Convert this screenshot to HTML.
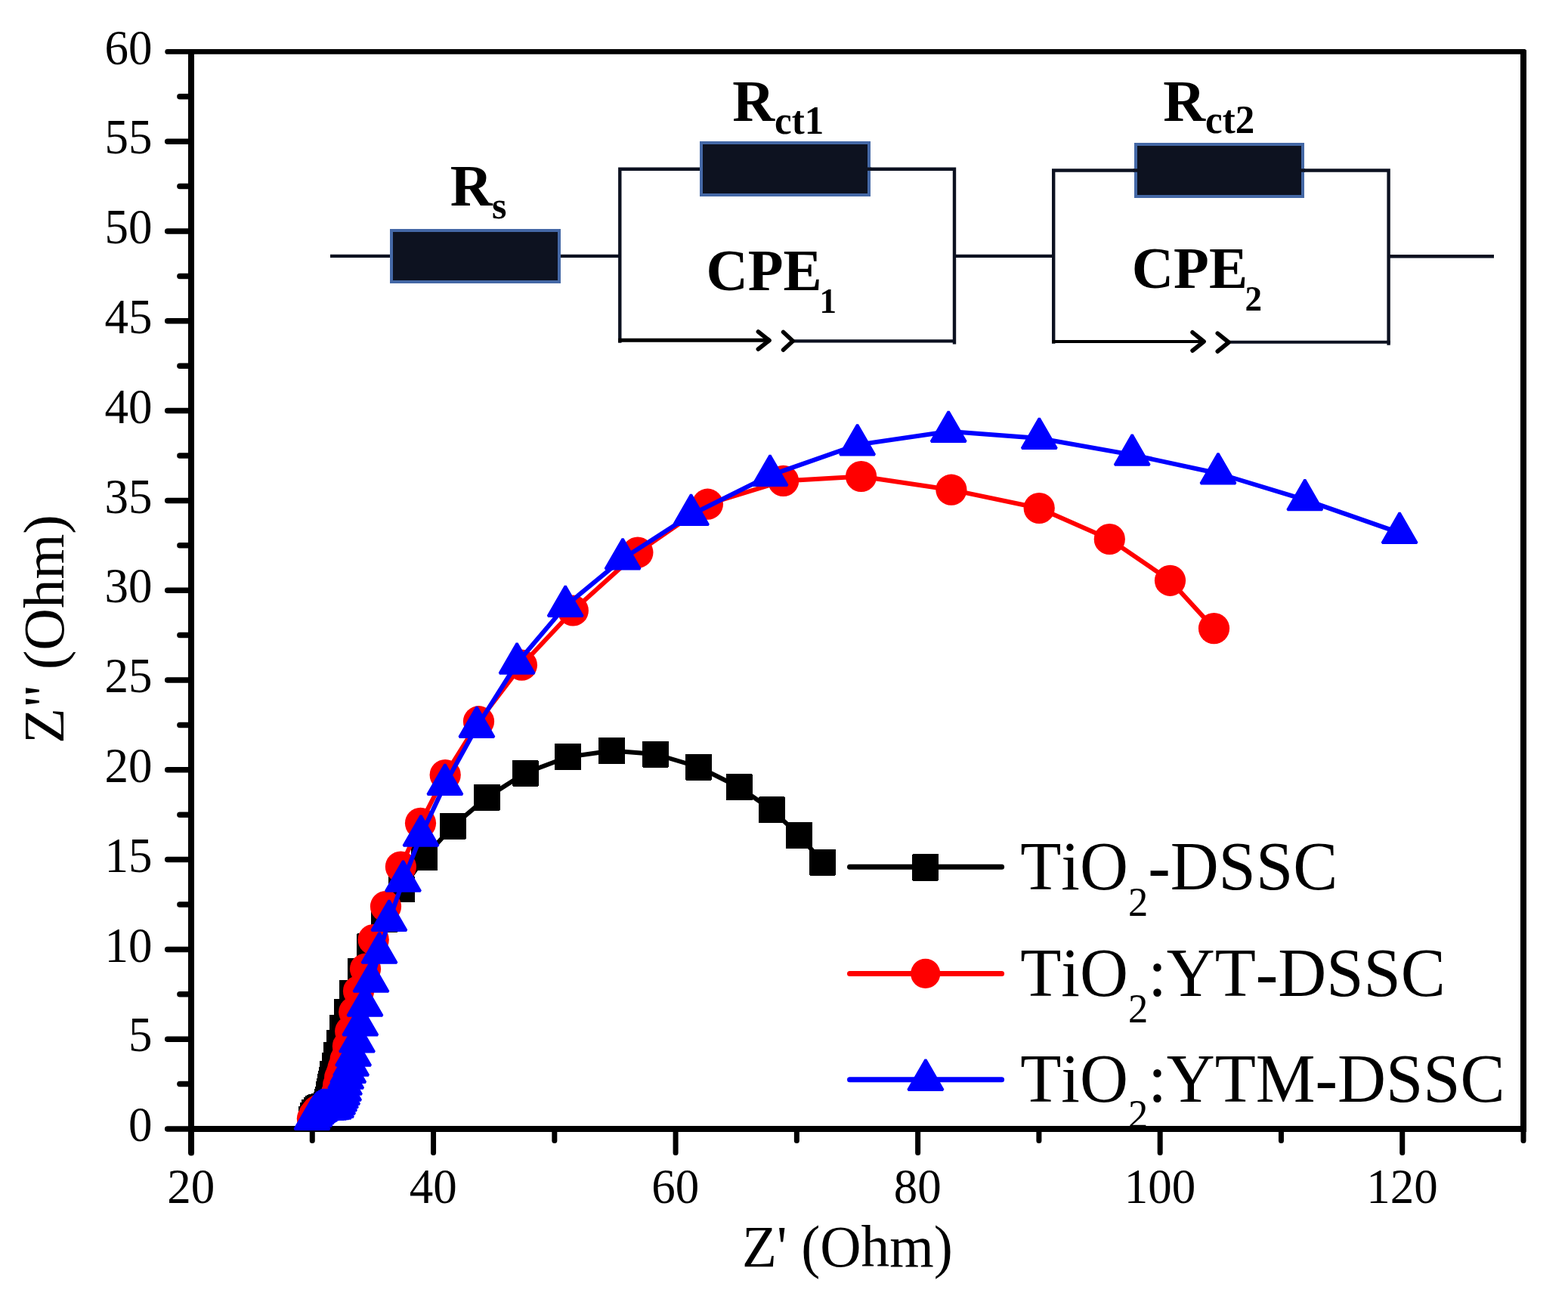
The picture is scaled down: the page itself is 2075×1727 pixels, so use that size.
<!DOCTYPE html>
<html lang="en"><head><meta charset="utf-8"><title>Nyquist plot - DSSC impedance</title>
<style>html,body{margin:0;padding:0;background:#fff;}body{width:2075px;height:1727px;overflow:hidden;}svg{display:block;}text{font-family:'Liberation Serif', 'DejaVu Serif', serif;fill:#000;font-kerning:none;font-variant-ligatures:none;}</style>
</head><body>
<svg width="2075" height="1727" viewBox="0 0 2075 1727" shape-rendering="crispEdges">
<rect x="0" y="0" width="2075" height="1727" fill="#fff"/>
<g id="circuit" fill="none" stroke="#0c1120" stroke-width="4.4" shape-rendering="geometricPrecision">
<line x1="437" y1="338.9" x2="518" y2="338.9"/>
<line x1="740" y1="338.9" x2="820.3" y2="338.9"/>
<line x1="1263" y1="338.9" x2="1394.2" y2="338.9"/>
<line x1="1837.6" y1="339.2" x2="1977" y2="339.2"/>
<polyline points="820.3,453.7 820.3,223.7 1263,223.7 1263,455.4"/>
<line x1="1050" y1="451.4" x2="1265" y2="451.4"/>
<polyline points="1394.2,454.7 1394.2,225.5 1837.6,225.5 1837.6,456.7"/>
<line x1="1627" y1="452.7" x2="1839.7" y2="452.7" stroke-width="4"/>
</g>
<g id="arrows" fill="none" stroke="#000" stroke-width="5.6" stroke-linecap="round" stroke-linejoin="round" shape-rendering="geometricPrecision">
<line x1="818.2" y1="450.3" x2="1017" y2="450.3" stroke-linecap="butt" stroke-width="5"/>
<polyline points="1003.4,439 1018,450.5 1003.4,462"/>
<polyline points="1036.6,439.5 1049.2,451.2 1036.6,463"/>
<line x1="1392.1" y1="452" x2="1592" y2="452" stroke-linecap="butt" stroke-width="4.2"/>
<polyline points="1578.1,439.8 1593.1,452 1578.1,464"/>
<polyline points="1611.3,441.1 1626,453 1611.3,465"/>
</g>
<g id="resistors" fill="#0d1220" stroke="#4468a6" stroke-width="3.6">
<rect x="517.7" y="304.9" width="222.4" height="68"/>
<rect x="927.8" y="189" width="222.2" height="69"/>
<rect x="1502.9" y="191" width="221.2" height="69"/>
</g>
<g id="wire-stubs" fill="none" stroke="#0c1120" stroke-width="4.4" shape-rendering="geometricPrecision">
<line x1="1148" y1="223.7" x2="1153" y2="223.7"/>
<line x1="1500" y1="225.5" x2="1505" y2="225.5"/>
<line x1="1722" y1="225.5" x2="1727" y2="225.5"/>
</g>
<g id="circuit-labels" font-weight="bold" font-size="77.3">
<text transform="translate(595.8,272.2) scale(1,1.02)">R<tspan font-size="50" dy="16.3" dx="-0.6">s</tspan></text>
<text transform="translate(969.3,160.2) scale(1,1.02)">R<tspan font-size="51" dy="16">ct1</tspan></text>
<text transform="translate(1539.3,159.8) scale(1,1.02)">R<tspan font-size="51" dy="15.7">ct2</tspan></text>
<text transform="translate(934.5,384.3) scale(1,1.02)" font-size="76.6">CPE<tspan font-size="45" dy="28.8" dx="-3.2">1</tspan></text>
<text transform="translate(1497.8,381.4) scale(1,1.02)" font-size="76.6">CPE<tspan font-size="45" dy="29.3" dx="-3.6">2</tspan></text>
</g>
<g id="axes" fill="none" stroke="#000" stroke-linecap="round" shape-rendering="geometricPrecision">
<line x1="253" y1="65" x2="253" y2="1498" stroke-width="8" stroke-linecap="butt"/>
<line x1="2016" y1="66.4" x2="2016" y2="1498" stroke-width="8" stroke-linecap="butt"/>
<line x1="249" y1="1494" x2="2020" y2="1494" stroke-width="8" stroke-linecap="butt"/>
<polygon points="249,65 2018.2,65 2020,66.8 2020,71.8 249,71.8" fill="#000" stroke="none"/>
<line x1="221.7" y1="1494" x2="253" y2="1494" stroke-width="7.5"/>
<line x1="237.9" y1="1434.6" x2="253" y2="1434.6" stroke-width="7.5"/>
<line x1="221.7" y1="1375.2" x2="253" y2="1375.2" stroke-width="7.5"/>
<line x1="237.9" y1="1315.8" x2="253" y2="1315.8" stroke-width="7.5"/>
<line x1="221.7" y1="1256.4" x2="253" y2="1256.4" stroke-width="7.5"/>
<line x1="237.9" y1="1197" x2="253" y2="1197" stroke-width="7.5"/>
<line x1="221.7" y1="1137.6" x2="253" y2="1137.6" stroke-width="7.5"/>
<line x1="237.9" y1="1078.2" x2="253" y2="1078.2" stroke-width="7.5"/>
<line x1="221.7" y1="1018.8" x2="253" y2="1018.8" stroke-width="7.5"/>
<line x1="237.9" y1="959.4" x2="253" y2="959.4" stroke-width="7.5"/>
<line x1="221.7" y1="900" x2="253" y2="900" stroke-width="7.5"/>
<line x1="237.9" y1="840.6" x2="253" y2="840.6" stroke-width="7.5"/>
<line x1="221.7" y1="781.2" x2="253" y2="781.2" stroke-width="7.5"/>
<line x1="237.9" y1="721.8" x2="253" y2="721.8" stroke-width="7.5"/>
<line x1="221.7" y1="662.4" x2="253" y2="662.4" stroke-width="7.5"/>
<line x1="237.9" y1="603" x2="253" y2="603" stroke-width="7.5"/>
<line x1="221.7" y1="543.6" x2="253" y2="543.6" stroke-width="7.5"/>
<line x1="237.9" y1="484.2" x2="253" y2="484.2" stroke-width="7.5"/>
<line x1="221.7" y1="424.8" x2="253" y2="424.8" stroke-width="7.5"/>
<line x1="237.9" y1="365.4" x2="253" y2="365.4" stroke-width="7.5"/>
<line x1="221.7" y1="306" x2="253" y2="306" stroke-width="7.5"/>
<line x1="237.9" y1="246.6" x2="253" y2="246.6" stroke-width="7.5"/>
<line x1="221.7" y1="187.2" x2="253" y2="187.2" stroke-width="7.5"/>
<line x1="237.9" y1="127.8" x2="253" y2="127.8" stroke-width="7.5"/>
<line x1="221.7" y1="68.4" x2="253" y2="68.4" stroke-width="6.8"/>
<line x1="253" y1="1494" x2="253" y2="1525.4" stroke-width="8"/>
<line x1="413.27" y1="1494" x2="413.27" y2="1509.6" stroke-width="7"/>
<line x1="573.55" y1="1494" x2="573.55" y2="1525.4" stroke-width="7"/>
<line x1="733.82" y1="1494" x2="733.82" y2="1509.6" stroke-width="7"/>
<line x1="894.09" y1="1494" x2="894.09" y2="1525.4" stroke-width="7"/>
<line x1="1054.36" y1="1494" x2="1054.36" y2="1509.6" stroke-width="7"/>
<line x1="1214.64" y1="1494" x2="1214.64" y2="1525.4" stroke-width="7"/>
<line x1="1374.91" y1="1494" x2="1374.91" y2="1509.6" stroke-width="7"/>
<line x1="1535.18" y1="1494" x2="1535.18" y2="1525.4" stroke-width="7"/>
<line x1="1695.45" y1="1494" x2="1695.45" y2="1509.6" stroke-width="7"/>
<line x1="1855.73" y1="1494" x2="1855.73" y2="1525.4" stroke-width="7"/>
<line x1="2016" y1="1494" x2="2016" y2="1509.6" stroke-width="7"/>
</g>
<defs><clipPath id="plotclip"><rect x="253" y="66.4" width="1763" height="1429.6"/></clipPath></defs>
<g id="data" clip-path="url(#plotclip)">
<g id="series-black" fill="#000" stroke="none">
<polyline points="412.4,1481.7 414.6,1476.7 416.5,1472.6 419.7,1469.7 421.6,1467.5 423.5,1466.5 425.7,1465.6 429,1464.2 432.4,1462.4 433.5,1458.6 434.6,1455.5 435.6,1448.7 436.6,1444.4 437.6,1438.8 438.6,1434.4 439.6,1429.6 440.7,1421.5 443.6,1410.6 445.6,1396.5 449.7,1380.6 453.6,1360.6 459.5,1339.7 466.7,1314.5 477.6,1285.6 489.9,1252.8 508.7,1216.8 531.4,1176.9 561.4,1134.9 599.4,1093.2 644.5,1055.1 695,1023 751.5,1001.7 809.7,993.5 867.4,998 924.4,1015 978.1,1041.8 1021.5,1071.9 1057.6,1105.4 1088.6,1141" fill="none" stroke="#000" stroke-width="6" stroke-linejoin="round" shape-rendering="geometricPrecision"/>
<rect x="394.9" y="1464.2" width="35" height="35" rx="1" ry="1"/>
<rect x="397.1" y="1459.2" width="35" height="35" rx="1" ry="1"/>
<rect x="399" y="1455.1" width="35" height="35" rx="1" ry="1"/>
<rect x="402.2" y="1452.2" width="35" height="35" rx="1" ry="1"/>
<rect x="404.1" y="1450" width="35" height="35" rx="1" ry="1"/>
<rect x="406" y="1449" width="35" height="35" rx="1" ry="1"/>
<rect x="408.2" y="1448.1" width="35" height="35" rx="1" ry="1"/>
<rect x="411.5" y="1446.7" width="35" height="35" rx="1" ry="1"/>
<rect x="414.9" y="1444.9" width="35" height="35" rx="1" ry="1"/>
<rect x="416" y="1441.1" width="35" height="35" rx="1" ry="1"/>
<rect x="417.1" y="1438" width="35" height="35" rx="1" ry="1"/>
<rect x="418.1" y="1431.2" width="35" height="35" rx="1" ry="1"/>
<rect x="419.1" y="1426.9" width="35" height="35" rx="1" ry="1"/>
<rect x="420.1" y="1421.3" width="35" height="35" rx="1" ry="1"/>
<rect x="421.1" y="1416.9" width="35" height="35" rx="1" ry="1"/>
<rect x="422.1" y="1412.1" width="35" height="35" rx="1" ry="1"/>
<rect x="423.2" y="1404" width="35" height="35" rx="1" ry="1"/>
<rect x="426.1" y="1393.1" width="35" height="35" rx="1" ry="1"/>
<rect x="428.1" y="1379" width="35" height="35" rx="1" ry="1"/>
<rect x="432.2" y="1363.1" width="35" height="35" rx="1" ry="1"/>
<rect x="436.1" y="1343.1" width="35" height="35" rx="1" ry="1"/>
<rect x="442" y="1322.2" width="35" height="35" rx="1" ry="1"/>
<rect x="449.2" y="1297" width="35" height="35" rx="1" ry="1"/>
<rect x="460.1" y="1268.1" width="35" height="35" rx="1" ry="1"/>
<rect x="472.4" y="1235.3" width="35" height="35" rx="1" ry="1"/>
<rect x="491.2" y="1199.3" width="35" height="35" rx="1" ry="1"/>
<rect x="513.9" y="1159.4" width="35" height="35" rx="1" ry="1"/>
<rect x="543.9" y="1117.4" width="35" height="35" rx="1" ry="1"/>
<rect x="581.9" y="1075.7" width="35" height="35" rx="1" ry="1"/>
<rect x="627" y="1037.6" width="35" height="35" rx="1" ry="1"/>
<rect x="677.5" y="1005.5" width="35" height="35" rx="1" ry="1"/>
<rect x="734" y="984.2" width="35" height="35" rx="1" ry="1"/>
<rect x="792.2" y="976" width="35" height="35" rx="1" ry="1"/>
<rect x="849.9" y="980.5" width="35" height="35" rx="1" ry="1"/>
<rect x="906.9" y="997.5" width="35" height="35" rx="1" ry="1"/>
<rect x="960.6" y="1024.3" width="35" height="35" rx="1" ry="1"/>
<rect x="1004" y="1054.4" width="35" height="35" rx="1" ry="1"/>
<rect x="1040.1" y="1087.9" width="35" height="35" rx="1" ry="1"/>
<rect x="1071.1" y="1123.5" width="35" height="35" rx="1" ry="1"/>
</g>
<g id="series-red" fill="#f00" stroke="none" shape-rendering="geometricPrecision">
<polyline points="413.4,1480.5 416,1475 420,1470 424,1467.8 429,1466.5 434,1465.5 438.5,1462 441.5,1456 443.8,1450.5 445.8,1445.6 447.6,1436 449.7,1425.6 451.9,1420.4 454.1,1412.6 457.1,1401.9 460.4,1384.5 463.7,1364.8 468.7,1339.3 474.5,1311.5 483.5,1282.2 494.2,1243.5 510.5,1199.6 530.4,1147.1 556.5,1089.3 589.2,1025.5 633.5,954.7 690.4,880.2 758.3,808 843.9,731.1 936.4,667.2 1036.6,636.4 1139.6,630.5 1258.9,648.2 1375.2,672.5 1468.3,713.5 1548.5,768.3 1606.5,831.6" fill="none" stroke="#f00" stroke-width="6" stroke-linejoin="round"/>
<circle cx="413.4" cy="1480.5" r="20.6"/>
<circle cx="416" cy="1475" r="20.6"/>
<circle cx="420" cy="1470" r="20.6"/>
<circle cx="424" cy="1467.8" r="20.6"/>
<circle cx="429" cy="1466.5" r="20.6"/>
<circle cx="434" cy="1465.5" r="20.6"/>
<circle cx="438.5" cy="1462" r="20.6"/>
<circle cx="441.5" cy="1456" r="20.6"/>
<circle cx="443.8" cy="1450.5" r="20.6"/>
<circle cx="445.8" cy="1445.6" r="20.6"/>
<circle cx="447.6" cy="1436" r="20.6"/>
<circle cx="449.7" cy="1425.6" r="20.6"/>
<circle cx="451.9" cy="1420.4" r="20.6"/>
<circle cx="454.1" cy="1412.6" r="20.6"/>
<circle cx="457.1" cy="1401.9" r="20.6"/>
<circle cx="460.4" cy="1384.5" r="20.6"/>
<circle cx="463.7" cy="1364.8" r="20.6"/>
<circle cx="468.7" cy="1339.3" r="20.6"/>
<circle cx="474.5" cy="1311.5" r="20.6"/>
<circle cx="483.5" cy="1282.2" r="20.6"/>
<circle cx="494.2" cy="1243.5" r="20.6"/>
<circle cx="510.5" cy="1199.6" r="20.6"/>
<circle cx="530.4" cy="1147.1" r="20.6"/>
<circle cx="556.5" cy="1089.3" r="20.6"/>
<circle cx="589.2" cy="1025.5" r="20.6"/>
<circle cx="633.5" cy="954.7" r="20.6"/>
<circle cx="690.4" cy="880.2" r="20.6"/>
<circle cx="758.3" cy="808" r="20.6"/>
<circle cx="843.9" cy="731.1" r="20.6"/>
<circle cx="936.4" cy="667.2" r="20.6"/>
<circle cx="1036.6" cy="636.4" r="20.6"/>
<circle cx="1139.6" cy="630.5" r="20.6"/>
<circle cx="1258.9" cy="648.2" r="20.6"/>
<circle cx="1375.2" cy="672.5" r="20.6"/>
<circle cx="1468.3" cy="713.5" r="20.6"/>
<circle cx="1548.5" cy="768.3" r="20.6"/>
<circle cx="1606.5" cy="831.6" r="20.6"/>
</g>
<g id="series-blue" fill="#00f" stroke="#00f" stroke-width="3.2" stroke-linejoin="bevel" shape-rendering="geometricPrecision">
<polyline points="413,1481.1 415.8,1476.8 418.2,1473.6 420.5,1471.4 423,1469.8 425.8,1468.4 428.6,1468 431.8,1468 435.1,1467.9 438.3,1467.4 441.4,1466.9 444.5,1465 446.6,1460.8 448.6,1456.6 450.5,1452.4 452.6,1448.1 454.6,1442.8 455.5,1434.9 457.7,1426.8 460.7,1419 464.6,1409.8 467.6,1396.8 472.5,1378.7 476.8,1356.6 483,1330.8 491,1298.9 502,1260.9 514.9,1218 533.5,1165.9 557,1105.9 588.9,1038 630.9,962.1 684.1,877.8 748.2,802.1 824.1,739.5 914.5,681.2 1019,629.1 1134.6,588.6 1255.2,571 1375.3,580 1498.2,601.9 1612,626.5 1726.8,661.4 1852.1,705.2" fill="none" stroke="#00f" stroke-width="6" stroke-linejoin="round"/>
<polygon points="413,1454.54 436,1494.38 390,1494.38"/>
<polygon points="415.8,1450.24 438.8,1490.08 392.8,1490.08"/>
<polygon points="418.2,1447.04 441.2,1486.88 395.2,1486.88"/>
<polygon points="420.5,1444.84 443.5,1484.68 397.5,1484.68"/>
<polygon points="423,1443.24 446,1483.08 400,1483.08"/>
<polygon points="425.8,1441.84 448.8,1481.68 402.8,1481.68"/>
<polygon points="428.6,1441.44 451.6,1481.28 405.6,1481.28"/>
<polygon points="431.8,1441.44 454.8,1481.28 408.8,1481.28"/>
<polygon points="435.1,1441.34 458.1,1481.18 412.1,1481.18"/>
<polygon points="438.3,1440.84 461.3,1480.68 415.3,1480.68"/>
<polygon points="441.4,1440.34 464.4,1480.18 418.4,1480.18"/>
<polygon points="444.5,1438.44 467.5,1478.28 421.5,1478.28"/>
<polygon points="446.6,1434.24 469.6,1474.08 423.6,1474.08"/>
<polygon points="448.6,1430.04 471.6,1469.88 425.6,1469.88"/>
<polygon points="450.5,1425.84 473.5,1465.68 427.5,1465.68"/>
<polygon points="452.6,1421.54 475.6,1461.38 429.6,1461.38"/>
<polygon points="454.6,1416.24 477.6,1456.08 431.6,1456.08"/>
<polygon points="455.5,1408.34 478.5,1448.18 432.5,1448.18"/>
<polygon points="457.7,1400.24 480.7,1440.08 434.7,1440.08"/>
<polygon points="460.7,1392.44 483.7,1432.28 437.7,1432.28"/>
<polygon points="464.6,1383.24 487.6,1423.08 441.6,1423.08"/>
<polygon points="467.6,1370.24 490.6,1410.08 444.6,1410.08"/>
<polygon points="472.5,1352.14 495.5,1391.98 449.5,1391.98"/>
<polygon points="476.8,1330.04 499.8,1369.88 453.8,1369.88"/>
<polygon points="483,1304.24 506,1344.08 460,1344.08"/>
<polygon points="491,1272.34 514,1312.18 468,1312.18"/>
<polygon points="502,1234.34 525,1274.18 479,1274.18"/>
<polygon points="514.9,1191.44 537.9,1231.28 491.9,1231.28"/>
<polygon points="533.5,1139.34 556.5,1179.18 510.5,1179.18"/>
<polygon points="557,1079.34 580,1119.18 534,1119.18"/>
<polygon points="588.9,1011.44 611.9,1051.28 565.9,1051.28"/>
<polygon points="630.9,935.54 653.9,975.38 607.9,975.38"/>
<polygon points="684.1,851.24 707.1,891.08 661.1,891.08"/>
<polygon points="748.2,775.54 771.2,815.38 725.2,815.38"/>
<polygon points="824.1,712.94 847.1,752.78 801.1,752.78"/>
<polygon points="914.5,654.64 937.5,694.48 891.5,694.48"/>
<polygon points="1019,602.54 1042,642.38 996,642.38"/>
<polygon points="1134.6,562.04 1157.6,601.88 1111.6,601.88"/>
<polygon points="1255.2,544.44 1278.2,584.28 1232.2,584.28"/>
<polygon points="1375.3,553.44 1398.3,593.28 1352.3,593.28"/>
<polygon points="1498.2,575.34 1521.2,615.18 1475.2,615.18"/>
<polygon points="1612,599.94 1635,639.78 1589,639.78"/>
<polygon points="1726.8,634.84 1749.8,674.68 1703.8,674.68"/>
<polygon points="1852.1,678.64 1875.1,718.48 1829.1,718.48"/>
</g>
</g>
<g id="ylabels" font-size="63" text-anchor="end">
<text transform="translate(201.5,1510.1) scale(1,1.03)">0</text>
<text transform="translate(201.5,1391.3) scale(1,1.03)">5</text>
<text transform="translate(201.5,1272.5) scale(1,1.03)">10</text>
<text transform="translate(201.5,1153.7) scale(1,1.03)">15</text>
<text transform="translate(201.5,1034.9) scale(1,1.03)">20</text>
<text transform="translate(201.5,916.1) scale(1,1.03)">25</text>
<text transform="translate(201.5,797.3) scale(1,1.03)">30</text>
<text transform="translate(201.5,678.5) scale(1,1.03)">35</text>
<text transform="translate(201.5,559.7) scale(1,1.03)">40</text>
<text transform="translate(201.5,440.9) scale(1,1.03)">45</text>
<text transform="translate(201.5,322.1) scale(1,1.03)">50</text>
<text transform="translate(201.5,203.3) scale(1,1.03)">55</text>
<text transform="translate(201.5,84.5) scale(1,1.03)">60</text>
</g>
<g id="xlabels" font-size="63" text-anchor="middle">
<text transform="translate(252.7,1592.4) scale(1,1.03)">20</text>
<text transform="translate(573.25,1592.4) scale(1,1.03)">40</text>
<text transform="translate(893.79,1592.4) scale(1,1.03)">60</text>
<text transform="translate(1214.34,1592.4) scale(1,1.03)">80</text>
<text transform="translate(1534.88,1592.4) scale(1,1.03)">100</text>
<text transform="translate(1855.43,1592.4) scale(1,1.03)">120</text>
</g>
<g id="titles">
<text transform="translate(982,1675.5) scale(1,1.03)" font-size="75.2">Z' (Ohm)</text>
<text transform="translate(84,984) rotate(-90)" font-size="77">Z" (Ohm)</text>
</g>
<g id="legend">
<line x1="1124.5" y1="1147.3" x2="1325.6" y2="1147.3" stroke="#000" stroke-width="7" stroke-linecap="round" shape-rendering="geometricPrecision"/>
<line x1="1124.5" y1="1288.4" x2="1325.6" y2="1288.4" stroke="#f00" stroke-width="7" stroke-linecap="round" shape-rendering="geometricPrecision"/>
<line x1="1124.5" y1="1428.7" x2="1325.6" y2="1428.7" stroke="#00f" stroke-width="7" stroke-linecap="round" shape-rendering="geometricPrecision"/>
<g fill="#000"><rect x="1207" y="1130.4" width="35.2" height="35.2" rx="1" ry="1"/></g>
<g fill="#f00" shape-rendering="geometricPrecision"><circle cx="1224.7" cy="1288.4" r="19.6"/></g>
<g fill="#00f" stroke="#00f" stroke-width="3.2" stroke-linejoin="bevel" shape-rendering="geometricPrecision"><polygon points="1224.9,1402.33 1248,1442.34 1201.8,1442.34"/></g>
<text transform="translate(1350.2,1176.8) scale(1,1.03)" font-size="88.6">TiO<tspan font-size="52.5" dy="34.1">2</tspan><tspan dy="-34.1">-DSSC</tspan></text>
<text transform="translate(1350.2,1318.1) scale(1,1.03)" font-size="88.6">TiO<tspan font-size="52.5" dy="34.1">2</tspan><tspan dy="-34.1">:YT-DSSC</tspan></text>
<text transform="translate(1350.2,1457.8) scale(1,1.03)" font-size="88.6">TiO<tspan font-size="52.5" dy="34.1">2</tspan><tspan dy="-34.1">:YTM-DSSC</tspan></text>
</g>
</svg>
</body></html>
